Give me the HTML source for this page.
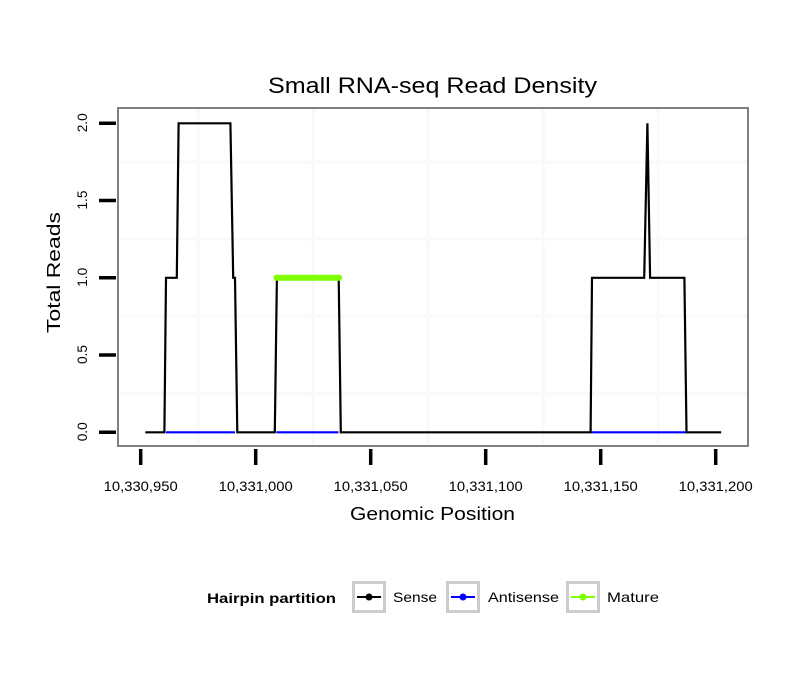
<!DOCTYPE html>
<html><head><meta charset="utf-8"><style>
html,body{margin:0;padding:0;background:#fff;}
svg{display:block;font-family:"Liberation Sans",Arial,sans-serif;}
</style></head><body>
<svg id="chart" width="810" height="690" viewBox="0 0 810 690">
<rect x="0" y="0" width="810" height="690" fill="#fff"/>
<text x="268" y="93" font-size="22" textLength="329" lengthAdjust="spacingAndGlyphs" fill="#000">Small RNA-seq Read Density</text>
<g id="grid"></g>
<g id="series"></g>
<rect x="118" y="108" width="630" height="338" fill="none" stroke="#808080" stroke-width="2"/>
<g id="axes"></g>
<text x="350" y="520" font-size="18" textLength="165" lengthAdjust="spacingAndGlyphs">Genomic Position</text>
<text transform="translate(60,333) rotate(-90)" font-size="18" textLength="121" lengthAdjust="spacingAndGlyphs">Total Reads</text>
<g>
<text x="207" y="603" font-size="14" font-weight="bold" textLength="129" lengthAdjust="spacingAndGlyphs">Hairpin partition</text>
<g>
<rect x="353.5" y="582.5" width="31" height="29" fill="#fff" stroke="#ccc" stroke-width="3"/>
<line x1="357" y1="597" x2="381" y2="597" stroke="#000" stroke-width="2"/><circle cx="369" cy="597" r="3.5" fill="#000"/>
<text x="393" y="602" font-size="14" textLength="44" lengthAdjust="spacingAndGlyphs">Sense</text></g>
<g>
<rect x="447.5" y="582.5" width="31" height="29" fill="#fff" stroke="#ccc" stroke-width="3"/>
<line x1="451" y1="597" x2="475" y2="597" stroke="#0000ff" stroke-width="2"/><circle cx="463" cy="597" r="3.5" fill="#0000ff"/>
<text x="488" y="602" font-size="14" textLength="71" lengthAdjust="spacingAndGlyphs">Antisense</text></g>
<g>
<rect x="567.5" y="582.5" width="31" height="29" fill="#fff" stroke="#ccc" stroke-width="3"/>
<line x1="571" y1="597" x2="595" y2="597" stroke="#7fff00" stroke-width="2"/><circle cx="583" cy="597" r="3.5" fill="#7fff00"/>
<text x="607" y="602" font-size="14" textLength="52" lengthAdjust="spacingAndGlyphs">Mature</text></g>
</g>
</svg>
<script>
const senseX = [10330952,10330960.3,10330961,10330965.7,10330966.5,10330989,10330990.2,10330991,10330992,10331008.3,10331009.2,10331036.1,10331037,10331145.6,10331146.2,10331168.9,10331170.3,10331171.5,10331186.4,10331187.3,10331202.4];
const senseY = [0,0,1,1,2,2,1,1,0,0,1,1,0,0,1,1,2,1,1,0,0];
const antisenseSegStart = [10330961,10331009,10331146];
const antisenseSegEnd = [10330991,10331036,10331187];
const matureStart = [10331009];
const matureEnd = [10331036.3];
const matureValue = [1];
const xTicks = [10330950,10331000,10331050,10331100,10331150,10331200];
const xMinor = [10330975,10331025,10331075,10331125,10331175];
const yTicks = [0,0.5,1,1.5,2];
const yMinor = [0.25,0.75,1.25,1.75];

const NS='http://www.w3.org/2000/svg';
function X(v){return 140.7+(v-10330950)*2.3;}
function Y(v){return 432.3-v*154.5;}
function mk(tag,attrs,parent){const e=document.createElementNS(NS,tag);for(const k in attrs)e.setAttribute(k,attrs[k]);parent.appendChild(e);return e;}
const grid=document.getElementById('grid'),series=document.getElementById('series'),axes=document.getElementById('axes');
xMinor.forEach(v=>{const l=mk('line',{x1:X(v),x2:X(v),y1:109,y2:445,stroke:'#f9f9f9','stroke-width':3},grid);

});
yMinor.forEach(v=>{const l=mk('line',{x1:119,x2:747,y1:Y(v),y2:Y(v),stroke:'#f9f9f9','stroke-width':3},grid);

});
let d=senseX.map((x,i)=>(i?'L':'M')+X(x).toFixed(1)+','+Y(senseY[i]).toFixed(1)).join(' ');
const sp=mk('path',{d:d,fill:'none',stroke:'#000','stroke-width':2.2,'stroke-linejoin':'miter'},series);


antisenseSegStart.forEach((s,i)=>{const l=mk('line',{x1:X(s),x2:X(antisenseSegEnd[i]),y1:Y(0),y2:Y(0),stroke:'#0000ff','stroke-width':2.2},series);

});
matureStart.forEach((s,i)=>{const l=mk('line',{x1:X(s),x2:X(matureEnd[i]),y1:Y(matureValue[i]),y2:Y(matureValue[i]),stroke:'#7fff00','stroke-width':6,'stroke-linecap':'round'},series);

});
xTicks.forEach(v=>{const l=mk('line',{x1:X(v),x2:X(v),y1:449,y2:465,stroke:'#000','stroke-width':3.5},axes);


const t=mk('text',{x:X(v)-37,y:491,'font-size':13.5,textLength:74,lengthAdjust:'spacingAndGlyphs'},axes);
t.textContent=v.toLocaleString('en-US');

});
yTicks.forEach(v=>{const l=mk('line',{x1:99,x2:116,y1:Y(v),y2:Y(v),stroke:'#000','stroke-width':3.5},axes);


const t=mk('text',{transform:'translate(87,'+(Y(v)+9)+') rotate(-90)','font-size':13.5,textLength:19,lengthAdjust:'spacingAndGlyphs'},axes);
t.textContent=v.toFixed(1);

});
</script>
</body></html>
